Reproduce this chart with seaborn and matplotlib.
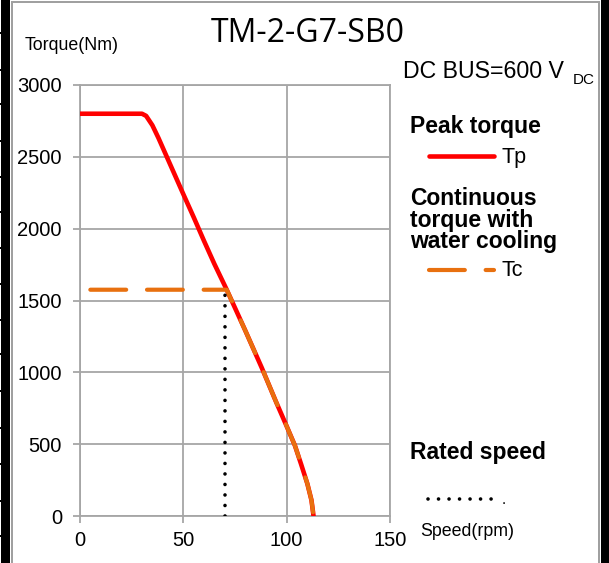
import matplotlib
matplotlib.use("Agg")
import matplotlib.pyplot as plt
from matplotlib.lines import Line2D
import seaborn as sns
import pandas as pd
import numpy as np

# ---------------- data ----------------
title = "TM-2-G7-SB0"
speed_peak = [0, 30, 32, 35, 38, 42, 46, 50, 55, 60, 65, 71, 80, 88, 95, 100, 104, 107, 110, 112, 113]
torque_peak = [2800, 2800, 2785, 2720, 2630, 2500, 2370, 2240, 2080, 1915, 1755, 1575, 1290, 1030, 790, 625, 490, 360, 225, 110, 0]
speed_cont = [5, 71, 80, 88, 95, 100, 104, 107, 110, 112, 113]
torque_cont = [1575, 1575, 1290, 1030, 790, 625, 490, 360, 225, 110, 0]
rated_speed = [70, 70]
rated_torque = [0, 1575]
x_ticks = [0, 50, 100, 150]
y_ticks = [0, 500, 1000, 1500, 2000, 2500, 3000]

sns.set_theme(style="white")
plt.rcParams['font.family'] = ['Liberation Sans', 'DejaVu Sans']
plt.rcParams['text.color'] = 'black'

W, H = 609, 563
fig = plt.figure(figsize=(W / 100, H / 100), dpi=100)
fig.patch.set_facecolor("white")

# ---------------- outer frame (pixel background) ----------------
bg = np.ones((H, W, 3))
bg[:, 1:10, :] = 0.0
bg[:, 601:609, :] = 0.0
bg[2:, 11:13, :] = 0.63
bg[2:, 598:600, :] = 0.63
bg[1:3, 11:600, :] = 0.63
for yy in [32, 69, 103, 140, 176, 211, 247, 283, 319, 353, 390, 427, 463, 500, 535]:
    bg[yy:yy + 2, 0:2, :] = 0.0
fig.figimage(bg, xo=0, yo=0, origin="upper", zorder=0)

L, R, T, B = 80, 390, 85, 516
ax = fig.add_axes([L / W, 1 - B / H, (R - L) / W, (B - T) / H])
ax.set_zorder(5)

df_peak = pd.DataFrame({"speed": speed_peak, "torque": torque_peak})
df_cont = pd.DataFrame({"speed": speed_cont, "torque": torque_cont})
df_rated = pd.DataFrame({"speed": rated_speed, "torque": rated_torque})

red = "#ff0000"
orange = "#e8700f"
dash = (0, (8.6, 5.0))
dots = (0, (0.01, 2.9))

sns.lineplot(data=df_peak, x="speed", y="torque", ax=ax, color=red, linewidth=3.3,
             estimator=None, sort=False, solid_capstyle="round", zorder=3)
sns.lineplot(data=df_cont, x="speed", y="torque", ax=ax, color=orange, linewidth=3.0,
             estimator=None, sort=False, dash_capstyle="round", linestyle=dash, zorder=4)
sns.lineplot(data=df_rated, x="speed", y="torque", ax=ax, color="black", linewidth=2.6,
             estimator=None, sort=False, dash_capstyle="round", linestyle=dots, zorder=5)

ax.set_xlim(0, 150)
ax.set_ylim(0, 3000)
ax.set_xticks(x_ticks)
ax.set_yticks(y_ticks)
ax.set_xlabel("")
ax.set_ylabel("")
grid_c = "#a6a6a6"
ax.grid(True, color=grid_c, linewidth=1.3)
ax.set_axisbelow(True)
for s in ax.spines.values():
    s.set_color(grid_c)
    s.set_linewidth(1.3)
ax.tick_params(axis="both", which="both", direction="out", length=5, width=1.3,
               color=grid_c, labelsize=14.5, labelcolor="black", pad=6,
               bottom=True, left=True)
ax.tick_params(axis="y", pad=8)

# ---------------- texts ----------------
def ftxt(x, y, s, **kw):
    fig.text(x / W, 1 - y / H, s, zorder=6, color="black", **kw)

ftxt(308, 33, title, ha="center", va="center", fontsize=23, family=["Open Sans", "DejaVu Sans"])
ftxt(25, 45, "Torque(Nm)", ha="left", va="center", fontsize=12.8)
ftxt(420, 532, "Speed(rpm)", ha="left", va="center", fontsize=12.8)
ftxt(403, 72, "DC BUS=600 V", ha="left", va="center", fontsize=16.7)
ftxt(573, 80, "DC", ha="left", va="center", fontsize=11)

bold = dict(ha="left", va="center", fontsize=16.5, fontweight="bold")
ftxt(410, 126, "Peak torque", **bold)
ftxt(502, 157, "Tp", ha="left", va="center", fontsize=15.5)
ftxt(410, 220, "Continuous\ntorque with\nwater cooling", linespacing=0.92, **bold)
ftxt(502, 270, "Tc", ha="left", va="center", fontsize=15.5)
ftxt(410, 452, "Rated speed", **bold)
ftxt(502, 500, ".", ha="left", va="center", fontsize=11)

def fline(x0, x1, y, **kw):
    fig.add_artist(Line2D([x0 / W, x1 / W], [1 - y / H, 1 - y / H], zorder=6, **kw))

fline(429, 494, 156, color=red, linewidth=3.3, solid_capstyle="round")
fline(429, 494, 270, color=orange, linewidth=3.0, dash_capstyle="round", linestyle=dash)
fline(428, 494, 499, color="black", linewidth=2.6, dash_capstyle="round", linestyle=dots)

fig.savefig("out.png", dpi=100, facecolor="white")
